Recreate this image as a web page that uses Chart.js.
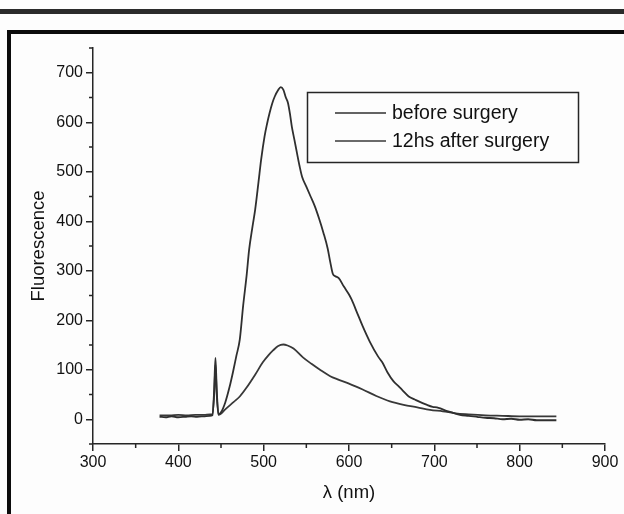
<!DOCTYPE html>
<html>
<head>
<meta charset="utf-8">
<script src="https://cdn.jsdelivr.net/npm/chart.js@4/dist/chart.umd.min.js"></script>
<style>
    body { margin: 0; background: #fdfdfd; }
    #wrap { position: relative; width: 624px; height: 514px; overflow: hidden; }
    #topBar { position: absolute; top: 9px; left: 0; width: 624px; height: 5px; background: #2b2b2b; }
    #frame { position: absolute; top: 30px; left: 7px; width: 640px; height: 520px;
             border-top: 4px solid #0c0c0c; border-left: 4px solid #0c0c0c; }
    #chartBox { position: absolute; top: 0; left: 0; width: 624px; height: 514px; }
</style>
</head>
<body>
<div id="wrap">
    <div id="topBar"></div>
    <div id="frame"></div>
    <div id="chartBox"><canvas id="spectra"></canvas></div>
</div>
<script>
// Wavelengths (nm) and fluorescence
const beforeNm = [378, 385, 392, 400, 408, 415, 422, 430, 437, 440, 442, 443.5, 445, 447, 450, 455, 460, 464, 468, 472,
    476, 480, 483, 487, 490, 494, 497, 501, 504, 507, 510, 513, 517, 520, 523, 526, 528.5, 531, 533, 536, 539, 542, 545,
    550, 555, 560, 565, 570, 575, 578, 581, 584, 588, 594, 600, 603, 610, 616, 624, 634, 639, 645, 652, 658, 663, 670,
    677, 683, 690, 698, 703, 707, 714, 722, 730, 740, 750, 760, 770, 780, 790, 800, 810, 820, 830, 843];
const beforeVal = [5, 4, 6, 4, 5, 6, 5, 6, 7, 8, 60, 124, 60, 10, 14, 34, 65, 95, 128, 161,
    230, 290, 343, 390, 423, 480, 524, 571, 597, 619, 638, 652, 665, 671, 666, 650, 639, 615, 591, 565, 538, 512, 490,
    470, 450, 430, 405, 377, 345, 318, 294, 289, 285, 268, 252, 242, 213, 188, 158, 127, 115, 95, 77, 67, 58, 46,
    40, 35, 30, 25, 24, 22, 17, 13, 9, 7, 5, 3, 2, 0, 1, -1, 0, -2, -2, -2];

const afterNm = [378, 390, 400, 410, 420, 430, 437, 440, 442, 443.5, 445, 447, 449, 455, 465, 472, 480, 490, 499, 506,
    511, 517, 523, 528, 535, 546, 556, 566, 578, 586, 600, 616, 632, 648, 664, 680, 695, 710, 725, 740, 760, 780, 800,
    820, 843];
const afterVal = [8, 8, 9, 8, 9, 9, 10, 10, 50, 110, 50, 9, 10, 20, 35, 46, 64, 90, 115, 130,
    139, 148, 151, 149, 143, 125, 112, 100, 87, 81, 72, 60, 47, 36, 29, 24, 19, 16, 12, 10, 8, 7, 6,
    6, 6];

const seriesLabels = ['before surgery', '12hs after surgery'];
const xTicks = [300, 400, 500, 600, 700, 800, 900];
const xMinor = [350, 450, 550, 650, 750, 850];
const yTicks = [0, 100, 200, 300, 400, 500, 600, 700];
const yMinor = [-50, 50, 150, 250, 350, 450, 550, 650, 750];

const ink = '#262626';
const textInk = '#111';
const fontFamily = '"Liberation Sans", Arial, sans-serif';
const toPoints = (xs, ys) => xs.map((x, i) => ({ x: x, y: ys[i] }));

// minor ticks and the legend box, drawn on top
const extras = {
    id: 'extras',
    afterDraw(chart) {
        const ctx = chart.ctx;
        const xs = chart.scales.x, ys = chart.scales.y;
        const area = chart.chartArea;
        ctx.save();
        ctx.strokeStyle = ink;
        ctx.lineWidth = 1.5;
        ctx.beginPath();
        xMinor.forEach(v => {
            const px = xs.getPixelForValue(v);
            ctx.moveTo(px, area.bottom);
            ctx.lineTo(px, area.bottom + 4);
        });
        yMinor.forEach(v => {
            const py = ys.getPixelForValue(v);
            ctx.moveTo(area.left, py);
            ctx.lineTo(area.left - 4, py);
        });
        ctx.stroke();

        // legend
        ctx.lineWidth = 1.5;
        ctx.strokeRect(307.5, 92.5, 271, 70);
        ctx.font = '19.5px ' + fontFamily;
        ctx.fillStyle = textInk;
        ctx.textBaseline = 'middle';
        chart.data.datasets.forEach((ds, i) => {
            const y = 113 + i * 28;
            ctx.strokeStyle = ds.borderColor || '#333';
            ctx.beginPath();
            ctx.moveTo(335, y);
            ctx.lineTo(386, y);
            ctx.stroke();
            ctx.fillText(ds.label, 392, y + 1);
        });
        ctx.restore();
    }
};

new Chart(document.getElementById('spectra'), {
    type: 'line',
    data: {
        datasets: [
            { label: seriesLabels[0], data: toPoints(beforeNm, beforeVal), borderColor: '#2f2f2f' },
            { label: seriesLabels[1], data: toPoints(afterNm, afterVal), borderColor: '#383838' }
        ]
    },
    options: {
        responsive: true,
        maintainAspectRatio: false,
        animation: false,
        layout: { padding: { left: 0, top: 48, right: 19, bottom: 0 } },
        elements: {
            point: { radius: 0 },
            line: { borderWidth: 1.8, cubicInterpolationMode: 'monotone' }
        },
        plugins: { legend: { display: false }, tooltip: { enabled: false } },
        scales: {
            x: {
                type: 'linear',
                min: 300,
                max: 900,
                afterBuildTicks: s => { s.ticks = xTicks.map(v => ({ value: v })); },
                afterFit: s => { s.height = 70; },
                grid: { drawOnChartArea: false, tickLength: 7, color: ink, lineWidth: 1.5 },
                border: { color: ink, width: 1.5 },
                ticks: { color: textInk, padding: 2, maxRotation: 0,
                         font: { family: fontFamily, size: 16 } },
                title: { display: true, text: 'λ (nm)', color: textInk, padding: { bottom: 10 },
                         font: { family: fontFamily, size: 18.5 } }
            },
            y: {
                min: -50,
                max: 750,
                afterBuildTicks: s => { s.ticks = yTicks.map(v => ({ value: v })); },
                afterFit: s => { s.width = 93; },
                grid: { drawOnChartArea: false, tickLength: 7, color: ink, lineWidth: 1.5 },
                border: { color: ink, width: 1.5 },
                ticks: { color: textInk, padding: 3,
                         font: { family: fontFamily, size: 16 } },
                title: { display: true, text: 'Fluorescence', color: textInk, padding: { top: 28 },
                         font: { family: fontFamily, size: 18.5 } }
            }
        }
    },
    plugins: [extras]
});
</script>
</body>
</html>
